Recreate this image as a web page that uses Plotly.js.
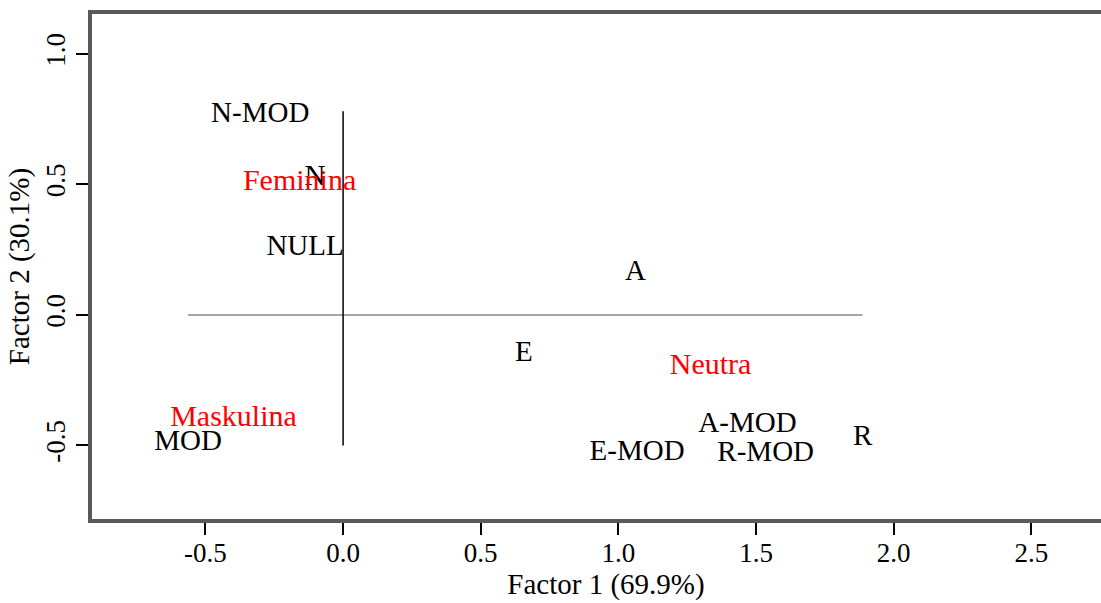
<!DOCTYPE html>
<html>
<head>
<meta charset="utf-8">
<script src="https://cdn.plot.ly/plotly-3.0.1.min.js"></script>
<style>
html, body { margin: 0; padding: 0; overflow: hidden; background: #fff; }
#chart { width: 1120px; height: 603px; }
</style>
</head>
<body>
<div id="chart"></div>
<script>
// Row points (black labels)
const rowLabels = ["N-MOD", "N", "NULL", "A", "E", "MOD", "E-MOD", "A-MOD", "R-MOD", "R"];
const rowX = [-0.301, -0.102, -0.138, 1.062, 0.657, -0.563, 1.068, 1.469, 1.535, 1.887];
const rowY = [0.768, 0.527, 0.259, 0.163, -0.150, -0.489, -0.527, -0.420, -0.531, -0.471];

// Column points (red labels)
const colLabels = ["Feminina", "Maskulina", "Neutra"];
const colX = [-0.158, -0.398, 1.335];
const colY = [0.506, -0.395, -0.197];

// Reference cross lines extents
const vLineY = [-0.50, 0.78];

const xTicks = [-0.5, 0.0, 0.5, 1.0, 1.5, 2.0, 2.5];
const yTicks = [-0.5, 0.0, 0.5, 1.0];
const xTitle = "Factor 1 (69.9%)";
const yTitle = "Factor 2 (30.1%)";

const FONT = "Liberation Serif";
const hX = [Math.min(...rowX, ...colX), Math.max(...rowX, ...colX)];

const traces = [
  { x: hX, y: [0, 0], mode: "lines", line: { color: "#8a8a8a", width: 1.5 }, hoverinfo: "skip", showlegend: false },
  { x: [0, 0], y: vLineY, mode: "lines", line: { color: "#000", width: 1.5 }, hoverinfo: "skip", showlegend: false },
  { x: rowX, y: rowY, text: rowLabels, mode: "text", textposition: "middle center",
    textfont: { family: FONT, size: 29, color: "#000" }, showlegend: false },
  { x: colX, y: colY, text: colLabels, mode: "text", textposition: "middle center",
    textfont: { family: FONT, size: 30, color: "#ff0000" }, showlegend: false }
];

const layout = {
  width: 1120, height: 603,
  margin: { l: 92, r: 0, t: 14, b: 84 },
  paper_bgcolor: "#fff", plot_bgcolor: "#fff",
  font: { family: FONT, color: "#000" },
  showlegend: false,
  xaxis: {
    range: [-0.912, 2.822], tickvals: xTicks, ticktext: xTicks.map(v => v.toFixed(1)),
    showgrid: false, zeroline: false, showline: true, mirror: true,
    linecolor: "#595959", linewidth: 4,
    ticks: "outside", ticklen: 12, tickwidth: 2, tickcolor: "#000",
    ticklabelstandoff: -5,
    tickfont: { family: FONT, size: 27, color: "#000" },
    title: { text: xTitle, font: { family: FONT, size: 29, color: "#000" }, standoff: 4 }
  },
  yaxis: {
    range: [-0.782, 1.153], tickvals: yTicks, ticktext: yTicks.map(v => v.toFixed(1)),
    showgrid: false, zeroline: false, showline: true, mirror: true,
    linecolor: "#595959", linewidth: 4,
    ticks: "outside", ticklen: 12, tickwidth: 2, tickcolor: "#000", tickangle: -90,
    tickfont: { family: FONT, size: 27, color: "#000" },
    title: { text: yTitle, font: { family: FONT, size: 29, color: "#000" }, standoff: 4 }
  }
};

Plotly.newPlot("chart", traces, layout, { staticPlot: true, displayModeBar: false });
</script>
</body>
</html>
